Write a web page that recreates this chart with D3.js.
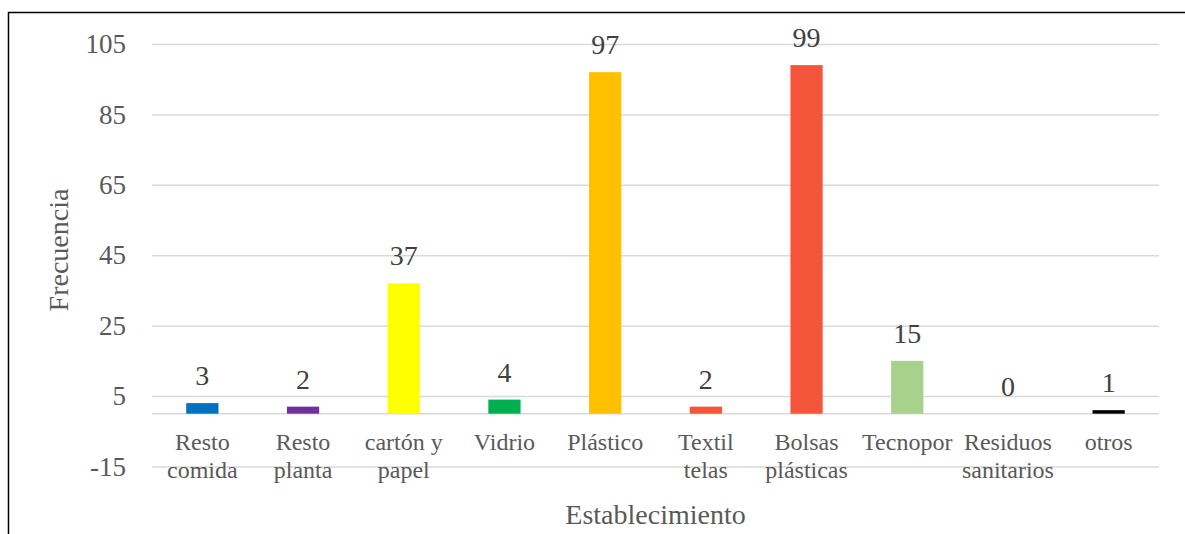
<!DOCTYPE html>
<html>
<head>
<meta charset="utf-8">
<script src="https://cdn.jsdelivr.net/npm/d3@7"></script>
<style>
  body { margin: 0; background: #fff; }
  svg { display: block; }
  svg text { font-family: 'Liberation Serif', Tinos, 'Times New Roman', 'DejaVu Serif'; }
</style>
</head>
<body>
<div id="chart"></div>
<script>
// categories (split into lines as in the original)
const categories = [
  ['Resto', 'comida'],
  ['Resto', 'planta'],
  ['cartón y', 'papel'],
  ['Vidrio'],
  ['Plástico'],
  ['Textil', 'telas'],
  ['Bolsas', 'plásticas'],
  ['Tecnopor'],
  ['Residuos', 'sanitarios'],
  ['otros']
];
const values = [3, 2, 37, 4, 97, 2, 99, 15, 0, 1];
const colors = ['#0070C0', '#7030A0', '#FFFF00', '#00B050', '#FFC000',
                '#F4563B', '#F4563B', '#A9D18E', '#7F7F7F', '#000000'];
const yTicks = [-15, 5, 25, 45, 65, 85, 105];

const width = 1185;
const height = 534;
const margin = { top: 44, right: 26, bottom: 534 - 466.5, left: 152 };

const svg = d3.select('#chart')
  .append('svg')
  .attr('width', width)
  .attr('height', height);

// outer border (chart frame, cut off at right and bottom)
svg.append('rect')
  .attr('x', 8.5)
  .attr('y', 12.5)
  .attr('width', width + 20)
  .attr('height', height + 20)
  .attr('fill', 'none')
  .attr('stroke', '#000')
  .attr('stroke-width', 1.5);

const x = d3.scaleBand()
  .domain(d3.range(categories.length))
  .range([margin.left, width - margin.right])
  .paddingInner(0.68)
  .paddingOuter(0.34);

const y = d3.scaleLinear()
  .domain([-15, 105])
  .range([height - margin.bottom, margin.top]);

// gridlines + y tick labels
const yAxis = g => g
  .attr('transform', `translate(${margin.left},0)`)
  .call(d3.axisLeft(y).tickValues(yTicks).tickFormat(d => String(d))
    .tickSize(-(width - margin.right - margin.left)).tickPadding(26))
  .attr('font-family', null)
  .call(g => g.select('.domain').remove())
  .call(g => g.selectAll('.tick line').attr('stroke', '#D9D9D9').attr('stroke-width', 1.5))
  .call(g => g.selectAll('.tick text')
    .attr('fill', '#595959')
    .attr('font-size', '27px'));

svg.append('g').call(yAxis);

// zero line
svg.append('line')
  .attr('x1', margin.left)
  .attr('x2', width - margin.right)
  .attr('y1', y(0))
  .attr('y2', y(0))
  .attr('stroke', '#D9D9D9')
  .attr('stroke-width', 1.5);

// bars
svg.append('g')
  .selectAll('rect')
  .data(values)
  .join('rect')
    .attr('x', (d, i) => x(i))
    .attr('y', d => y(d))
    .attr('width', x.bandwidth())
    .attr('height', d => y(0) - y(d))
    .attr('fill', (d, i) => colors[i]);

// value labels
svg.append('g')
  .selectAll('text')
  .data(values)
  .join('text')
    .attr('x', (d, i) => x(i) + x.bandwidth() / 2)
    .attr('y', d => y(d) - 18)
    .attr('text-anchor', 'middle')
    .attr('fill', '#404040')
    .attr('font-size', '28px')
    .text(d => d);

// category labels
const cat = svg.append('g')
  .selectAll('text')
  .data(categories)
  .join('text')
    .attr('x', (d, i) => x(i) + x.bandwidth() / 2)
    .attr('y', 450)
    .attr('text-anchor', 'middle')
    .attr('fill', '#595959')
    .attr('font-size', '24px');

cat.selectAll('tspan')
  .data(d => d)
  .join('tspan')
    .attr('x', function () { return d3.select(this.parentNode).attr('x'); })
    .attr('dy', (d, i) => i === 0 ? 0 : 28)
    .text(d => d);

// axis titles
svg.append('text')
  .attr('x', (margin.left + width - margin.right) / 2)
  .attr('y', 524)
  .attr('text-anchor', 'middle')
  .attr('fill', '#595959')
  .attr('font-size', '28px')
  .text('Establecimiento');

svg.append('text')
  .attr('transform', `translate(68, 250) rotate(-90)`)
  .attr('text-anchor', 'middle')
  .attr('fill', '#595959')
  .attr('font-size', '28px')
  .text('Frecuencia');
</script>
</body>
</html>
